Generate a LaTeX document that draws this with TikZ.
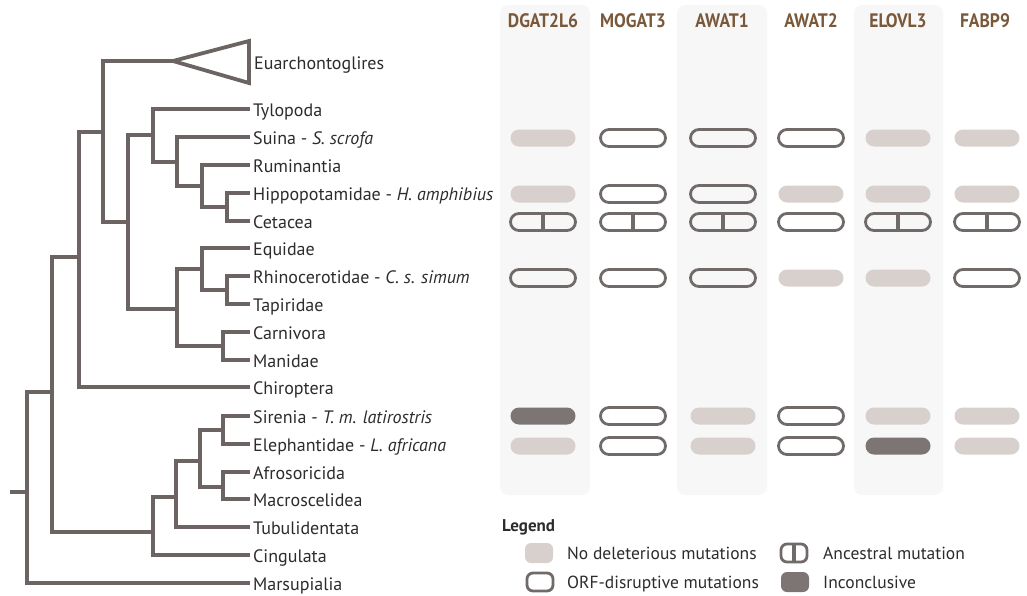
\documentclass[tikz,border=0pt]{standalone}
\usepackage{fontspec}
\usepackage{graphicx}
\setmainfont{PT Sans}
\usetikzlibrary{shapes.misc}
\definecolor{treec}{RGB}{108,100,98}
\definecolor{lightc}{RGB}{215,208,205}
\definecolor{darkc}{RGB}{124,117,115}
\definecolor{edgec}{RGB}{112,106,104}
\definecolor{genec}{RGB}{122,88,58}
\definecolor{colbg}{RGB}{247,247,247}
\definecolor{txtc}{RGB}{45,43,43}
\begin{document}
\begin{tikzpicture}[x=1pt,y=-1pt,
  branch/.style={draw=treec,line width=4.5pt},
  leaflab/.style={anchor=base west,inner sep=0pt,font=\fontsize{18}{20}\selectfont,text=txtc},
  gene/.style={anchor=base,font=\bfseries\fontsize{19.5}{21}\selectfont,text=genec,inner sep=0pt},
  pill/.style={rounded rectangle,minimum width=65pt,minimum height=17pt,inner sep=0pt},
  nodel/.style={pill,fill=lightc},
  orf/.style={pill,draw=edgec,line width=2.8pt,minimum width=65pt,minimum height=17pt},
  anc/.style={orf,path picture={\draw[edgec,line width=4pt] (path picture bounding box.north) -- (path picture bounding box.south);}},
  inc/.style={pill,fill=darkc},
  legsq/.style={rectangle,rounded corners=6pt,minimum width=28pt,minimum height=20pt,inner sep=0pt},
  legsqo/.style={legsq,draw=edgec,line width=2.8pt,minimum width=26pt,minimum height=18pt},
  legsqa/.style={legsqo,path picture={\draw[edgec,line width=4pt] (path picture bounding box.north) -- (path picture bounding box.south);}},
  leglab/.style={anchor=base west,inner sep=0pt,font=\fontsize{17.5}{20}\selectfont,text=txtc},
]
\useasboundingbox (0,0) rectangle (1027,595);
% column backgrounds
\fill[colbg,rounded corners=8pt] (500,5) rectangle (590,495);
\fill[colbg,rounded corners=8pt] (677,5) rectangle (767,495);
\fill[colbg,rounded corners=8pt] (854,5) rectangle (943,495);
% gene headers
\node[gene] (g1) at (543,27) {\scalebox{0.9}[1]{DGAT2L6}};
\node[gene] (g2) at (633,27) {\scalebox{0.9}[1]{MOGAT3}};
\node[gene] (g3) at (722,27) {\scalebox{0.9}[1]{AWAT1}};
\node[gene] (g4) at (811,27) {\scalebox{0.9}[1]{AWAT2}};
\node[gene] (g5) at (898,27) {\scalebox{0.9}[1]{ELOVL3}};
\node[gene] (g6) at (985,27) {\scalebox{0.9}[1]{FABP9}};
% leaves
\coordinate (eua) at (173,61);
\coordinate (tyl) at (250,109);
\coordinate (sui) at (250,137);
\coordinate (rum) at (250,165);
\coordinate (hip) at (250,193);
\coordinate (cet) at (250,221);
\coordinate (equ) at (250,248);
\coordinate (rhi) at (250,276);
\coordinate (tap) at (250,304);
\coordinate (car) at (250,332);
\coordinate (man) at (250,360);
\coordinate (chi) at (250,387);
\coordinate (sir) at (250,416);
\coordinate (ele) at (250,444);
\coordinate (afr) at (250,472);
\coordinate (mac) at (250,499);
\coordinate (tub) at (250,527);
\coordinate (cin) at (250,555);
\coordinate (mar) at (250,583);
% internal nodes
\coordinate (hc) at (227,207);
\coordinate (rhc) at (202,186);
\coordinate (srhc) at (177,162);
\coordinate (cetart) at (153,135);
\coordinate (rt) at (227,290);
\coordinate (ert) at (202,269);
\coordinate (cm) at (223,346);
\coordinate (peri) at (177,309);
\coordinate (laur) at (128,222);
\coordinate (bor) at (103,132);
\coordinate (n79) at (79,257);
\coordinate (se) at (223,430);
\coordinate (am) at (223,487);
\coordinate (afro) at (200,461);
\coordinate (afrot) at (176,497);
\coordinate (atl) at (153,532);
\coordinate (euth) at (52,392);
\coordinate (root) at (27,492);
\coordinate (rootstub) at (10,492);
% branches
\draw[branch] (hc) |- (hip);   \draw[branch] (hc) |- (cet);
\draw[branch] (rhc) |- (rum);  \draw[branch] (rhc) |- (hc);
\draw[branch] (srhc) |- (sui); \draw[branch] (srhc) |- (rhc);
\draw[branch] (cetart) |- (tyl); \draw[branch] (cetart) |- (srhc);
\draw[branch] (rt) |- (rhi);   \draw[branch] (rt) |- (tap);
\draw[branch] (ert) |- (equ);  \draw[branch] (ert) |- (rt);
\draw[branch] (cm) |- (car);   \draw[branch] (cm) |- (man);
\draw[branch] (peri) |- (ert); \draw[branch] (peri) |- (cm);
\draw[branch] (laur) |- (cetart); \draw[branch] (laur) |- (peri);
\draw[branch] (bor) |- (eua);  \draw[branch] (bor) |- (laur);
\draw[branch] (n79) |- (bor);  \draw[branch] (n79) |- (chi);
\draw[branch] (se) |- (sir);   \draw[branch] (se) |- (ele);
\draw[branch] (am) |- (afr);   \draw[branch] (am) |- (mac);
\draw[branch] (afro) |- (se);  \draw[branch] (afro) |- (am);
\draw[branch] (afrot) |- (afro); \draw[branch] (afrot) |- (tub);
\draw[branch] (atl) |- (afrot); \draw[branch] (atl) |- (cin);
\draw[branch] (euth) |- (n79); \draw[branch] (euth) |- (atl);
\draw[branch] (root) |- (euth); \draw[branch] (root) |- (mar);
\draw[branch] (rootstub) -- (root);
\draw[draw=treec,line width=3.8pt] (eua) -- (249,41) -- (249,83) -- cycle;
% leaf labels
\node[leaflab] (Leua) at (254,69) {Euarchontoglires};
\node[leaflab] (Ltyl) at (253,116) {Tylopoda};
\node[leaflab] (Lsui) at (253,144) {Suina - \textit{S. scrofa}};
\node[leaflab] (Lrum) at (253,172) {Ruminantia};
\node[leaflab] (Lhip) at (253,200) {Hippopotamidae - \textit{H. amphibius}};
\node[leaflab] (Lcet) at (253,228) {Cetacea};
\node[leaflab] (Lequ) at (253,255) {Equidae};
\node[leaflab] (Lrhi) at (253,283) {Rhinocerotidae - \textit{C. s. simum}};
\node[leaflab] (Ltap) at (253,311) {Tapiridae};
\node[leaflab] (Lcar) at (253,339) {Carnivora};
\node[leaflab] (Lman) at (253,367) {Manidae};
\node[leaflab] (Lchi) at (253,394) {Chiroptera};
\node[leaflab] (Lsir) at (253,423) {Sirenia - \textit{T. m. latirostris}};
\node[leaflab] (Lele) at (253,451) {Elephantidae - \textit{L. africana}};
\node[leaflab] (Lafr) at (253,479) {Afrosoricida};
\node[leaflab] (Lmac) at (253,506) {Macroscelidea};
\node[leaflab] (Ltub) at (253,534) {Tubulidentata};
\node[leaflab] (Lcin) at (253,562) {Cingulata};
\node[leaflab] (Lmar) at (253,590) {Marsupialia};
% pills: Suina
\node[nodel] (p11) at (543,138) {};
\node[orf]   (p12) at (633,138) {};
\node[orf]   (p13) at (723,138) {};
\node[orf]   (p14) at (811,138) {};
\node[nodel] (p15) at (898,138) {};
\node[nodel] (p16) at (987,138) {};
% Hippo
\node[nodel] (p21) at (543,194) {};
\node[orf]   (p22) at (633,194) {};
\node[orf]   (p23) at (723,194) {};
\node[nodel] (p24) at (811,194) {};
\node[nodel] (p25) at (898,194) {};
\node[nodel] (p26) at (987,194) {};
% Cetacea
\node[anc] (p31) at (543,222) {};
\node[anc] (p32) at (633,222) {};
\node[anc] (p33) at (723,222) {};
\node[orf] (p34) at (811,222) {};
\node[anc] (p35) at (898,222) {};
\node[anc] (p36) at (987,222) {};
% Rhino
\node[orf]   (p41) at (543,278) {};
\node[orf]   (p42) at (633,278) {};
\node[orf]   (p43) at (723,278) {};
\node[nodel] (p44) at (811,278) {};
\node[nodel] (p45) at (898,278) {};
\node[orf]   (p46) at (987,278) {};
% Sirenia
\node[inc]   (p51) at (543,416) {};
\node[orf]   (p52) at (633,416) {};
\node[nodel] (p53) at (723,416) {};
\node[orf]   (p54) at (811,416) {};
\node[nodel] (p55) at (898,416) {};
\node[nodel] (p56) at (987,416) {};
% Elephantidae
\node[nodel] (p61) at (543,446) {};
\node[orf]   (p62) at (633,446) {};
\node[nodel] (p63) at (723,446) {};
\node[orf]   (p64) at (811,446) {};
\node[inc]   (p65) at (898,446) {};
\node[nodel] (p66) at (987,446) {};
% legend
\node[anchor=base west,inner sep=0pt,font=\bfseries\fontsize{17}{20}\selectfont,text=txtc] (leg) at (502,531) {Legend};
\node[legsq,fill=lightc] (k1) at (539,553) {};
\node[leglab] (t1) at (567,559) {No deleterious mutations};
\node[legsqo] (k2) at (540,582) {};
\node[leglab] (t2) at (567,588) {ORF-disruptive mutations};
\node[legsqa] (k3) at (794,553) {};
\node[leglab] (t3) at (823,559) {Ancestral mutation};
\node[legsq,fill=darkc] (k4) at (795,582) {};
\node[leglab] (t4) at (823,588) {Inconclusive};
\end{tikzpicture}
\end{document}
